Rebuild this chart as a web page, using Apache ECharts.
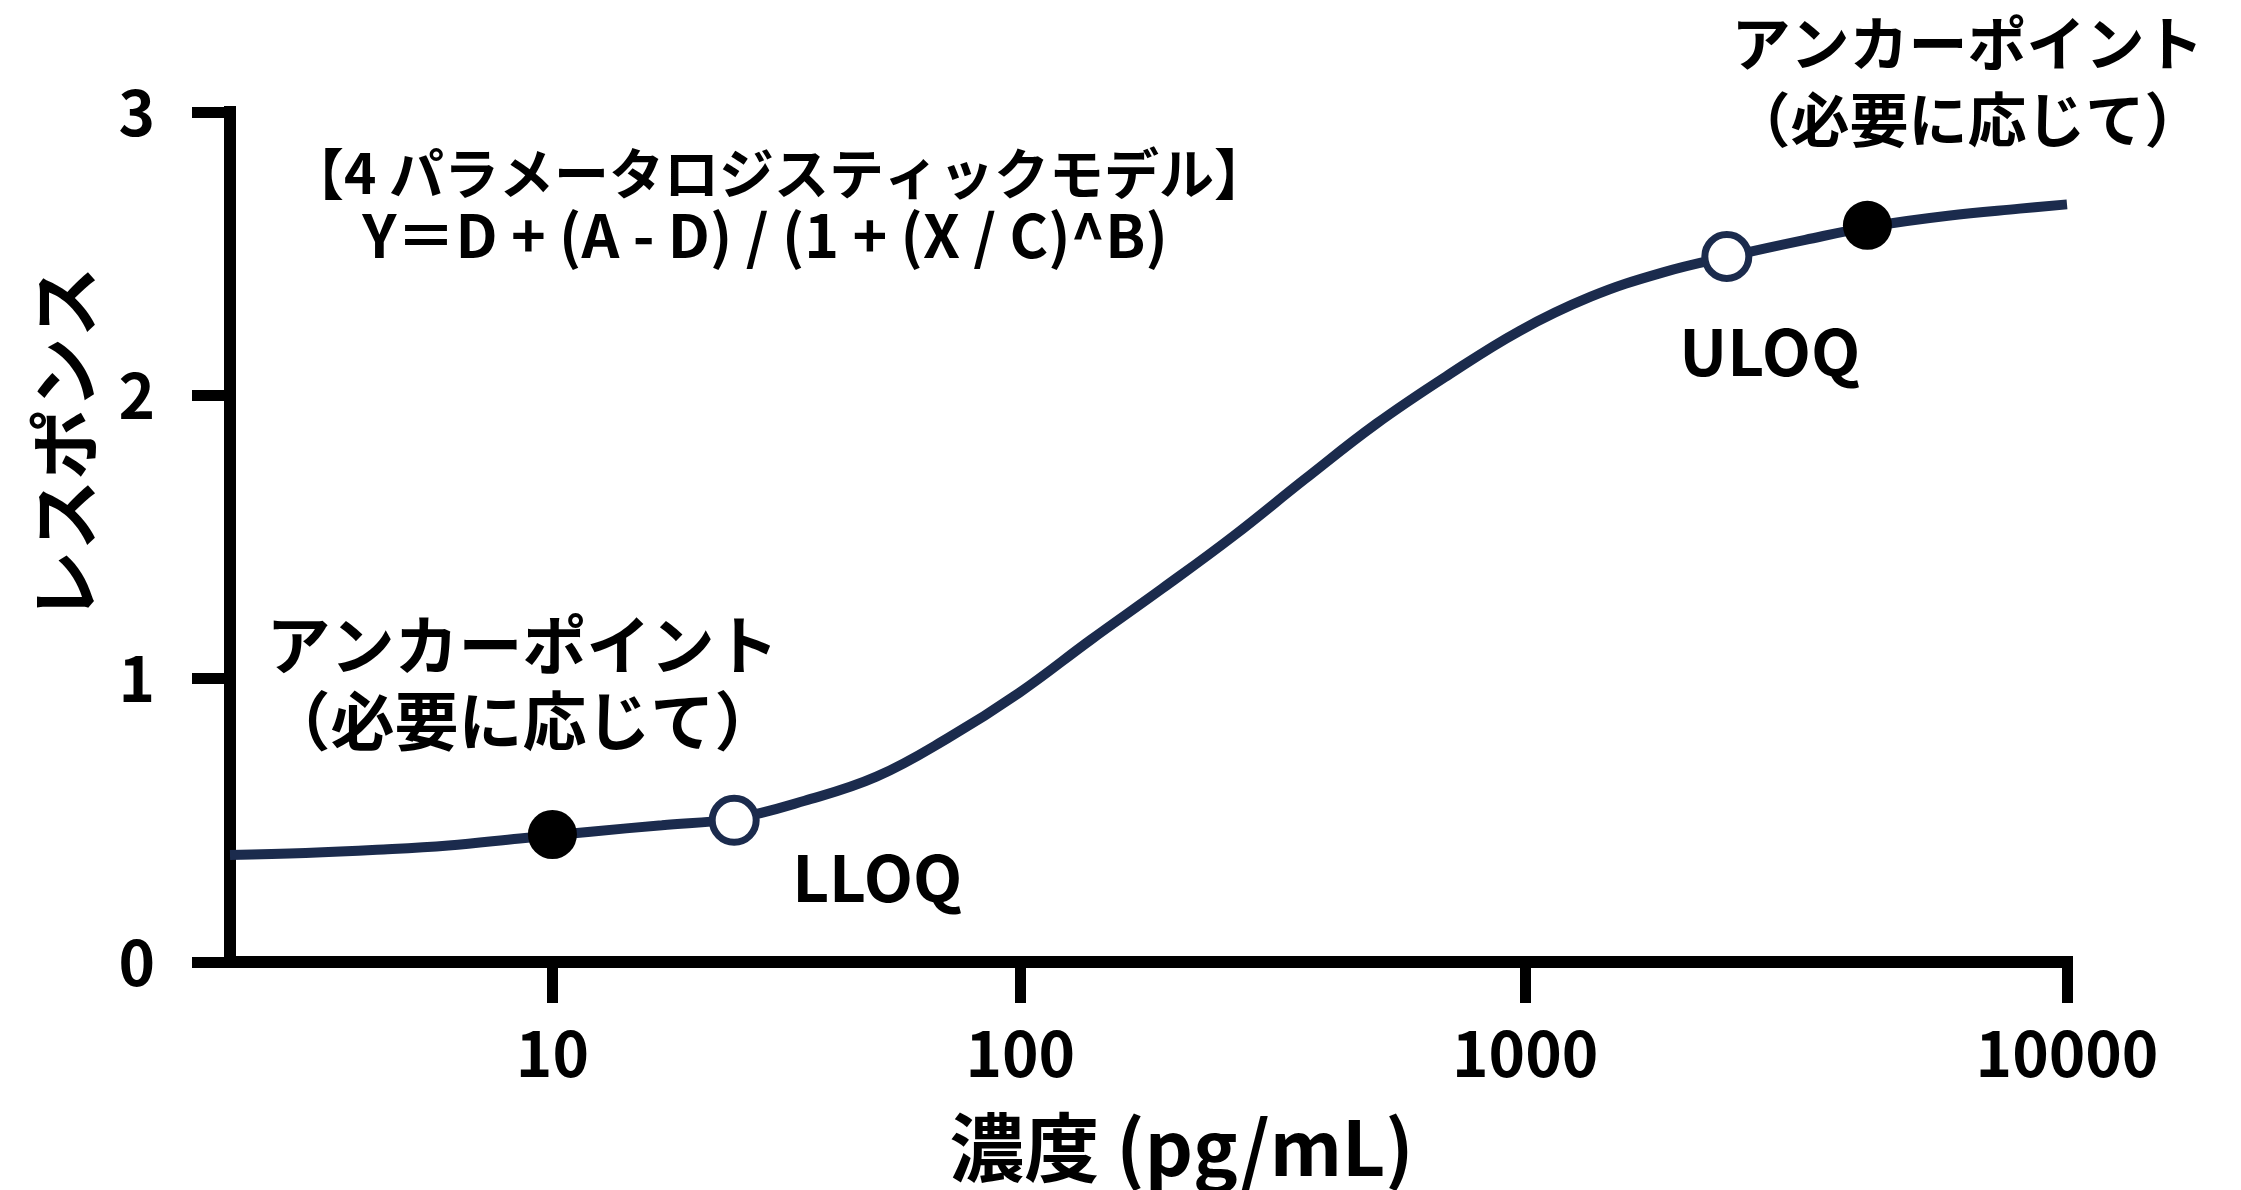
<!DOCTYPE html>
<html lang="ja">
<head>
<meta charset="utf-8">
<title>4パラメータロジスティックモデル</title>
<script src="https://cdn.jsdelivr.net/npm/echarts@6/dist/echarts.min.js"></script>
<style>
  html, body { margin: 0; padding: 0; background: #ffffff; }
  #chart { width: 2241px; height: 1190px; }
</style>
</head>
<body>
<div id="chart"></div>
<script>
// Standard curve (concentration in pg/mL, response)
const curveConc = [1.82, 2.74, 4.01, 5.84, 8.46, 12.15, 17.43, 25, 35.4, 50.2, 70.8, 99.6, 139.3, 194.4, 270.1, 374.2, 516.4, 710.8, 974.8, 1333, 1818, 2473, 3353, 4532, 6113, 8228, 10000];
const curveResp = [0.378, 0.385, 0.396, 0.411, 0.436, 0.460, 0.483, 0.506, 0.569, 0.654, 0.790, 0.951, 1.137, 1.318, 1.504, 1.705, 1.900, 2.071, 2.227, 2.348, 2.433, 2.494, 2.549, 2.599, 2.634, 2.659, 2.674];

// Anchor points (filled) and quantification limits (open)
const anchorConc = [10, 4360];
const anchorResp = [0.45, 2.60];
const anchorText = 'アンカーポイント\n（必要に応じて）';
const loqConc = [25, 2400];
const loqResp = [0.50, 2.49];
const loqNames = ['LLOQ', 'ULOQ'];

// Axes
const xRange = [1.82, 10000];
const xTicks = [10, 100, 1000, 10000];
const xTickLabels = ['10', '100', '1000', '10000'];
const yTicks = [0, 1, 2, 3];

const formulaTitle = '【4 パラメータロジスティックモデル】';
const formulaText = 'Y＝D + (A - D) / (1 + (X / C)^B)';

const FONT = '"Noto Sans CJK JP", "Noto Sans", sans-serif';
const NAVY = '#1b2b4d';

// Concentration axis: decades widen slightly toward the high end
function axisScale(c) {
  const t = Math.log10(c);
  return t + 0.0395 * (t - 1) * (t - 2);
}
const xTickPos = xTicks.map(axisScale);
function xLabelFor(v) {
  let best = 0;
  xTickPos.forEach((p, i) => { if (Math.abs(p - v) < Math.abs(xTickPos[best] - v)) best = i; });
  return xTickLabels[best];
}

const curveData = curveConc.map((c, i) => [axisScale(c), curveResp[i]]);
const anchorLabels = [
  { offset: [-30, -46], fontSize: 64 },
  { offset: [100, -38], fontSize: 59 }
];
const anchorData = anchorConc.map((c, i) => ({
  value: [axisScale(c), anchorResp[i]],
  label: anchorLabels[i]
}));
const loqOffsets = [[143, 57], [43, 95]];
const loqData = loqConc.map((c, i) => ({
  name: loqNames[i],
  value: [axisScale(c), loqResp[i]],
  label: { offset: loqOffsets[i] }
}));

const chart = echarts.init(document.getElementById('chart'), null, { renderer: 'canvas' });

const axisLineStyle = { color: '#000', width: 12, cap: 'square' };
const tickStyle = { color: '#000', width: 11 };
const labelFont = { fontFamily: FONT, fontWeight: 'bold', color: '#000' };

chart.setOption({
  animation: false,
  backgroundColor: '#ffffff',
  grid: { left: 230, right: 174, top: 112, bottom: 225, containLabel: false },
  xAxis: {
    type: 'value',
    min: axisScale(xRange[0]),
    max: axisScale(xRange[1]),
    axisLine: { lineStyle: axisLineStyle },
    axisTick: { customValues: xTickPos, length: 41, lineStyle: tickStyle },
    axisLabel: Object.assign({
      customValues: xTickPos,
      formatter: xLabelFor,
      fontSize: 62, lineHeight: 62, margin: 60
    }, labelFont),
    splitLine: { show: false },
    name: '濃度 (pg/mL)',
    nameLocation: 'middle',
    nameGap: 148,
    nameTextStyle: Object.assign({ fontSize: 75, lineHeight: 75, padding: [0, 0, 0, 66] }, labelFont)
  },
  yAxis: {
    type: 'value',
    min: yTicks[0],
    max: yTicks[yTicks.length - 1],
    interval: 1,
    axisLine: { lineStyle: axisLineStyle },
    axisTick: { length: 38, lineStyle: tickStyle },
    axisLabel: Object.assign({ fontSize: 62, lineHeight: 62, margin: 75 }, labelFont),
    splitLine: { show: false },
    name: 'レスポンス',
    nameLocation: 'middle',
    nameRotate: 90,
    nameGap: 130,
    nameTextStyle: Object.assign({ fontSize: 71, lineHeight: 71, padding: [0, 0, 0, 186] }, labelFont)
  },
  graphic: [
    { type: 'text', x: 779, y: 173, style: { text: formulaTitle, fontSize: 55, fontFamily: FONT, fontWeight: 'bold', align: 'center', verticalAlign: 'middle', fill: '#000' } },
    { type: 'text', x: 765, y: 236, style: { text: formulaText, fontSize: 59, fontFamily: FONT, fontWeight: 'bold', align: 'center', verticalAlign: 'middle', fill: '#000' } }
  ],
  series: [
    {
      type: 'line',
      data: curveData,
      smooth: 0.4,
      showSymbol: false,
      lineStyle: { color: NAVY, width: 10 },
      z: 2
    },
    {
      type: 'scatter',
      data: anchorData,
      symbolSize: 49,
      itemStyle: { color: '#000', opacity: 1 },
      label: Object.assign({
        show: true,
        formatter: anchorText,
        position: 'top',
        align: 'center',
        fontSize: 64,
        lineHeight: 76
      }, labelFont),
      z: 4
    },
    {
      type: 'scatter',
      data: loqData,
      symbolSize: 44,
      itemStyle: { color: '#ffffff', borderColor: NAVY, borderWidth: 7, opacity: 1 },
      label: Object.assign({
        show: true,
        formatter: '{b}',
        position: 'inside',
        align: 'center',
        verticalAlign: 'middle',
        fontSize: 64
      }, labelFont),
      z: 4
    }
  ]
});
</script>
</body>
</html>
